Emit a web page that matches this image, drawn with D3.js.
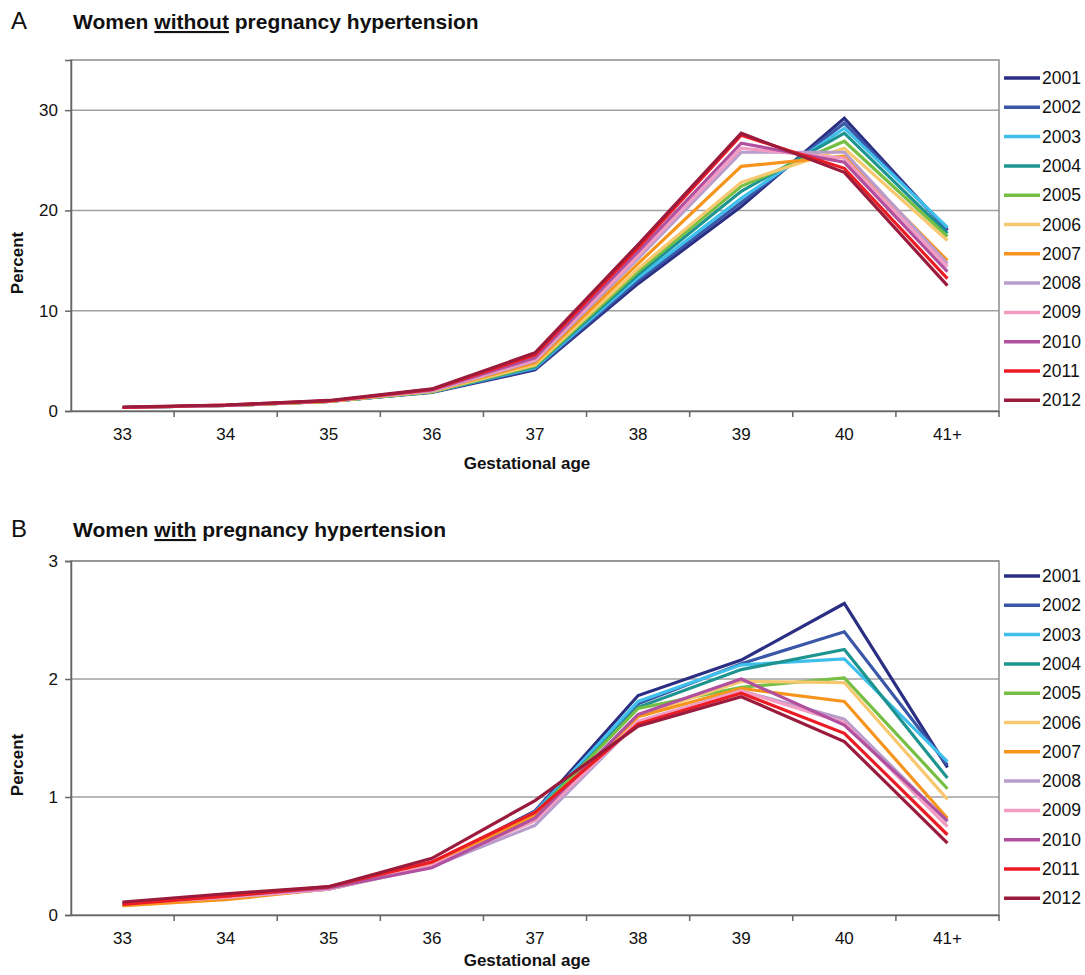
<!DOCTYPE html>
<meta charset="utf-8">
<script src="https://d3js.org/d3.v7.min.js"></script>
<style>
  body { margin: 0; background: #fff; }
  text { font-family: Arial, "Liberation Sans", sans-serif; fill: #111; }
</style>
<body>
<div id="chart"></div>
<script>

// categories and series
var ages = ["33", "34", "35", "36", "37", "38", "39", "40", "41+"];
var years = ["2001", "2002", "2003", "2004", "2005", "2006", "2007", "2008", "2009", "2010", "2011", "2012"];
var colors = ["#2b2f84", "#3a57a7", "#3fbfec", "#1e9490", "#74bf44", "#f8c870",
              "#f7941d", "#b89ccc", "#f39cc3", "#b0509e", "#ec1c24", "#9b1b3c"];

// panel A: women without pregnancy hypertension (percent)
var withoutHyp = [
  [0.35, 0.55, 0.95, 1.85, 4.1, 12.7, 20.4, 29.2, 18.0],
  [0.35, 0.55, 0.95, 1.9, 4.2, 13.0, 20.8, 28.7, 18.1],
  [0.35, 0.55, 0.95, 1.9, 4.3, 13.3, 21.2, 28.2, 18.3],
  [0.35, 0.55, 0.95, 1.9, 4.4, 13.6, 21.9, 27.7, 17.7],
  [0.35, 0.55, 0.95, 1.9, 4.5, 13.9, 22.4, 26.9, 17.4],
  [0.35, 0.55, 0.95, 1.95, 4.6, 14.2, 22.8, 26.2, 17.0],
  [0.35, 0.55, 0.95, 2.0, 4.8, 14.7, 24.4, 25.4, 15.0],
  [0.35, 0.55, 1.0, 2.0, 5.0, 15.2, 25.8, 25.8, 14.7],
  [0.35, 0.55, 1.0, 2.05, 5.1, 15.5, 26.2, 25.2, 14.4],
  [0.35, 0.55, 1.0, 2.1, 5.3, 15.9, 26.7, 24.8, 13.9],
  [0.35, 0.6, 1.0, 2.15, 5.6, 16.3, 27.5, 24.2, 13.2],
  [0.4, 0.6, 1.05, 2.2, 5.8, 16.6, 27.7, 23.8, 12.5]
];

// panel B: women with pregnancy hypertension (percent)
var withHyp = [
  [0.09, 0.16, 0.23, 0.43, 0.88, 1.86, 2.16, 2.64, 1.25],
  [0.09, 0.16, 0.23, 0.43, 0.88, 1.79, 2.13, 2.40, 1.27],
  [0.09, 0.15, 0.23, 0.43, 0.87, 1.81, 2.12, 2.17, 1.30],
  [0.09, 0.15, 0.22, 0.42, 0.86, 1.76, 2.08, 2.25, 1.16],
  [0.09, 0.15, 0.22, 0.42, 0.85, 1.75, 1.93, 2.01, 1.07],
  [0.08, 0.14, 0.22, 0.42, 0.80, 1.69, 1.98, 1.97, 0.98],
  [0.08, 0.13, 0.22, 0.43, 0.84, 1.68, 1.92, 1.81, 0.82],
  [0.10, 0.15, 0.22, 0.41, 0.76, 1.64, 1.90, 1.66, 0.79],
  [0.10, 0.15, 0.22, 0.42, 0.80, 1.64, 1.90, 1.63, 0.75],
  [0.10, 0.16, 0.23, 0.40, 0.82, 1.70, 2.00, 1.61, 0.80],
  [0.09, 0.16, 0.24, 0.45, 0.87, 1.62, 1.88, 1.54, 0.68],
  [0.11, 0.18, 0.24, 0.48, 0.97, 1.60, 1.85, 1.47, 0.61]
];

var ticksA = [0, 10, 20, 30];
var ticksB = [0, 1, 2, 3];

var svg = d3.select("#chart").append("svg")
    .attr("width", 1085)
    .attr("height", 975);

function drawPanel(opt) {
  var left = 71, right = 999;
  var g = svg.append("g");

  // panel letter and title
  g.append("text").attr("x", 11).attr("y", opt.titleY)
    .style("font-size", "24px").text(opt.letter);
  var t = g.append("text").attr("x", 73).attr("y", opt.titleY)
    .style("font-size", "21px").style("font-weight", "bold");
  t.append("tspan").text("Women ");
  t.append("tspan").style("text-decoration", "underline").text(opt.word);
  t.append("tspan").text(" pregnancy hypertension");

  var x = d3.scaleBand().domain(ages).range([left, right]);
  var y = d3.scaleLinear().domain([0, opt.max]).range([opt.bottom, opt.top]);

  // gridlines
  g.append("g").selectAll("line").data(opt.ticks.filter(function(d) { return d > 0; }))
    .enter().append("line")
      .attr("x1", left).attr("x2", right)
      .attr("y1", function(d) { return y(d); }).attr("y2", function(d) { return y(d); })
      .attr("stroke", "#a0a0a0").attr("stroke-width", 1.5);

  // plot frame
  g.append("rect").attr("x", left).attr("y", opt.top)
    .attr("width", right - left).attr("height", opt.bottom - opt.top)
    .attr("fill", "none").attr("stroke", "#8c8c8c").attr("stroke-width", 1.5);

  // y axis
  var yAxis = g.append("g").attr("transform", "translate(" + left + ",0)")
    .call(d3.axisLeft(y).tickValues(opt.ticks).tickFormat(d3.format("d")).tickSize(6).tickPadding(7));
  yAxis.select(".domain").attr("stroke", "#666").attr("stroke-width", 1.5);
  yAxis.selectAll(".tick line").attr("stroke", "#666").attr("stroke-width", 1.5);
  yAxis.selectAll("text").style("font-size", "17px").attr("fill", "#111")
    .style("font-family", "Arial, 'Liberation Sans', sans-serif");

  // x axis: labels at band centres, ticks at band edges
  var xAxis = g.append("g").attr("transform", "translate(0," + opt.bottom + ")")
    .call(d3.axisBottom(x).tickSize(0).tickPadding(17));
  xAxis.select(".domain").attr("stroke", "#666").attr("stroke-width", 1.5);
  xAxis.selectAll("text").style("font-size", "17px").attr("fill", "#111")
    .style("font-family", "Arial, 'Liberation Sans', sans-serif");
  g.append("g").selectAll("line").data(ages.slice(1).concat(["end"]))
    .enter().append("line")
      .attr("x1", function(d) { return d === "end" ? right : x(d); })
      .attr("x2", function(d) { return d === "end" ? right : x(d); })
      .attr("y1", opt.bottom).attr("y2", opt.bottom + 6)
      .attr("stroke", "#666").attr("stroke-width", 1.5);

  // axis titles
  g.append("text").attr("x", 527).attr("y", opt.xLabelY)
    .attr("text-anchor", "middle").style("font-size", "17px").style("font-weight", "bold")
    .text("Gestational age");
  g.append("text")
    .attr("transform", "translate(23," + opt.yLabelMid + ") rotate(-90)")
    .attr("text-anchor", "middle").style("font-size", "17px").style("font-weight", "bold")
    .text("Percent");

  // lines
  var line = d3.line()
    .x(function(d, i) { return x(ages[i]) + x.bandwidth() / 2; })
    .y(function(d) { return y(d); });
  g.append("g").selectAll("path").data(opt.data)
    .enter().append("path")
      .attr("d", line)
      .attr("fill", "none")
      .attr("stroke", function(d, i) { return colors[i]; })
      .attr("stroke-width", 3.2)
      .attr("stroke-linejoin", "miter");

  // legend
  var leg = g.append("g").selectAll("g").data(years)
    .enter().append("g")
      .attr("transform", function(d, i) { return "translate(1004," + (opt.legendTop + i * 29.3) + ")"; });
  leg.append("line").attr("x1", 0).attr("x2", 36).attr("y1", 0).attr("y2", 0)
    .attr("stroke", function(d, i) { return colors[i]; }).attr("stroke-width", 3.5);
  leg.append("text").attr("x", 38).attr("y", 6).style("font-size", "17.5px").text(function(d) { return d; });
}

drawPanel({ letter: "A", word: "without", titleY: 29, top: 60, bottom: 411, max: 35,
            ticks: ticksA, data: withoutHyp, legendTop: 78, yLabelMid: 263, xLabelY: 469 });
drawPanel({ letter: "B", word: "with", titleY: 537, top: 561, bottom: 915, max: 3,
            ticks: ticksB, data: withHyp, legendTop: 576, yLabelMid: 765, xLabelY: 966 });

</script>
</body>
